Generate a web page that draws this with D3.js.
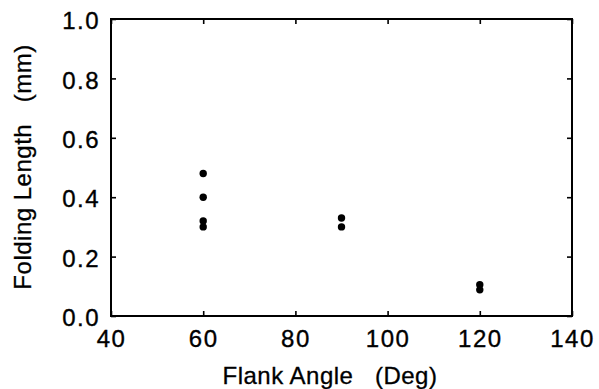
<!DOCTYPE html>
<html>
<head>
<meta charset="utf-8">
<script src="https://cdn.jsdelivr.net/npm/d3@7"></script>
<style>
  html, body { margin: 0; padding: 0; background: #fff; }
  svg { display: block; }
  text { font-family: "Liberation Sans", Arial, Helvetica, sans-serif; fill: #000; }
</style>
</head>
<body>
<svg id="chart" width="599" height="389"></svg>
<script>
// Data
const flankAngle = [60, 60, 60, 60, 90, 90, 120, 120];
const foldingLength = [0.48, 0.40, 0.32, 0.30, 0.33, 0.30, 0.105, 0.088];
const xTicks = [40, 60, 80, 100, 120, 140];
const yTicks = [0.0, 0.2, 0.4, 0.6, 0.8, 1.0];
const xTitle = "Flank Angle   (Deg)";
const yTitle = "Folding Length   (mm)";

const svg = d3.select("#chart");
const mLeft = 111, mRight = 572, mTop = 19, mBottom = 316;

const x = d3.scaleLinear().domain([40, 140]).range([mLeft, mRight]);
const y = d3.scaleLinear().domain([0, 1]).range([mBottom, mTop]);

const fmtY = d3.format(".1f");

// Bottom axis
const gB = svg.append("g").attr("transform", `translate(0,${mBottom})`)
  .call(d3.axisBottom(x).tickValues(xTicks).tickSize(-5).tickSizeOuter(0).tickPadding(14).tickFormat(d3.format("d")));
// Top axis
const gT = svg.append("g").attr("transform", `translate(0,${mTop})`)
  .call(d3.axisTop(x).tickValues(xTicks).tickSize(-5).tickSizeOuter(0).tickFormat(""));
// Left axis
const gL = svg.append("g").attr("transform", `translate(${mLeft},0)`)
  .call(d3.axisLeft(y).tickValues(yTicks).tickSize(-5).tickSizeOuter(0).tickPadding(11).tickFormat(fmtY));
// Right axis
const gR = svg.append("g").attr("transform", `translate(${mRight},0)`)
  .call(d3.axisRight(y).tickValues(yTicks).tickSize(-5).tickSizeOuter(0).tickFormat(""));

[gB, gT, gL, gR].forEach(g => {
  g.select(".domain").remove();
  g.selectAll(".tick line").attr("stroke", "#000").attr("stroke-width", 1.6);
  g.selectAll(".tick text")
    .style("font-family", '"Liberation Sans", Arial, Helvetica, sans-serif')
    .style("font-size", "24px")
    .style("letter-spacing", "1.5px")
    .attr("fill", "#000")
    .attr("stroke", "#000")
    .attr("stroke-width", 0.35);
});
gL.selectAll(".tick text").attr("dy", "0.4em");

// Frame
svg.append("rect")
  .attr("x", mLeft).attr("y", mTop)
  .attr("width", mRight - mLeft).attr("height", mBottom - mTop)
  .attr("fill", "none").attr("stroke", "#000").attr("stroke-width", 2);

// Points
svg.append("g").selectAll("circle")
  .data(flankAngle.map((a, i) => ({a, v: foldingLength[i]})))
  .join("circle")
  .attr("cx", d => x(d.a))
  .attr("cy", d => y(d.v))
  .attr("r", 3.7)
  .attr("fill", "#000");

// Axis titles
svg.append("text")
  .attr("x", 330).attr("y", 384)
  .attr("text-anchor", "middle")
  .attr("stroke", "#000").attr("stroke-width", 0.3)
  .style("font-size", "24px")
  .style("letter-spacing", "0.5px")
  .style("white-space", "pre")
  .text(xTitle);

svg.append("text")
  .attr("transform", "translate(31,167) rotate(-90)")
  .attr("text-anchor", "middle")
  .attr("stroke", "#000").attr("stroke-width", 0.3)
  .style("font-size", "24px")
  .style("letter-spacing", "0.5px")
  .style("white-space", "pre")
  .text(yTitle);
</script>
</body>
</html>
